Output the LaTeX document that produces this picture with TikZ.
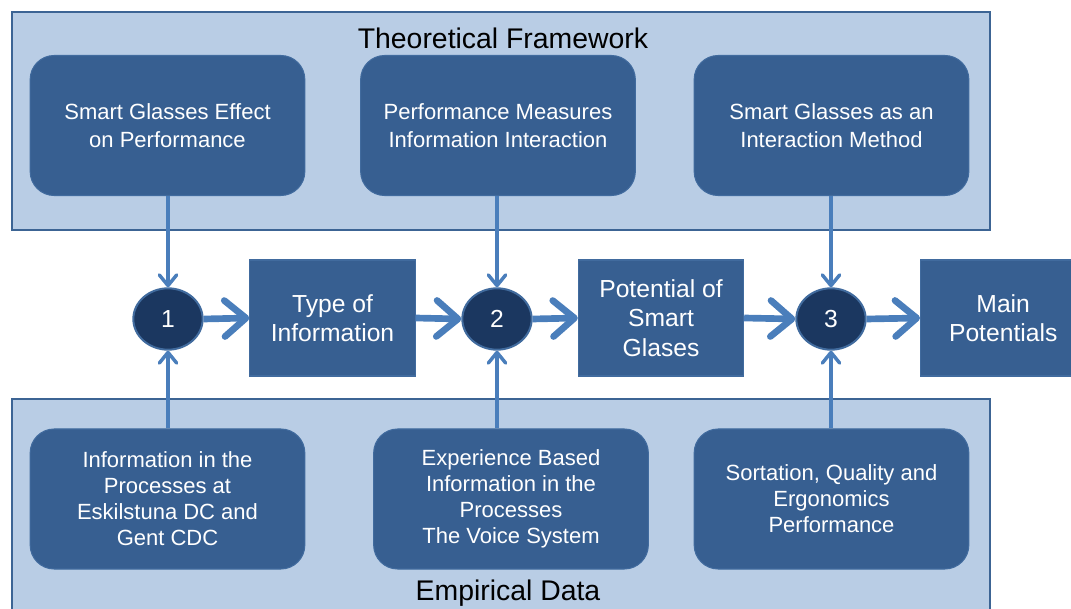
\documentclass[tikz,border=0pt]{standalone}
\usepackage{fontspec}
\setmainfont{Liberation Sans}
\usetikzlibrary{arrows.meta,shapes.geometric}
\definecolor{framefill}{HTML}{B9CDE5}
\definecolor{frameedge}{HTML}{3C6494}
\definecolor{boxfill}{HTML}{375F91}
\definecolor{boxedge}{HTML}{416B9E}
\definecolor{circfill}{HTML}{1B3760}
\definecolor{arrowcol}{HTML}{4A7EBB}
\begin{document}
\begin{tikzpicture}[x=0.75pt,y=-0.75pt,
  frame/.style={draw=frameedge,fill=framefill,line width=2.2pt},
  rbox/.style={draw=boxedge,fill=boxfill,line width=0.8pt,rounded corners=18pt,
    minimum width=206pt,minimum height=105pt,text=white,align=center,
    font=\fontsize{16.5}{21}\selectfont,inner sep=0pt},
  lbox/.style={rbox,font=\fontsize{16.5}{19.5}\selectfont},
  mbox/.style={draw=boxedge,fill=boxfill,line width=0.8pt,
    minimum width=124pt,minimum height=87pt,text=white,align=center,
    font=\fontsize{18.5}{22}\selectfont,inner sep=0pt},
  circ/.style={ellipse,draw=boxedge,fill=circfill,line width=1.5pt,
    minimum width=52pt,minimum height=46pt,text=white,inner sep=0pt,
    font=\fontsize{18.5}{20}\selectfont},
  thin/.style={draw=arrowcol,line width=2.6pt,-{Straight Barb[length=8pt,width=13pt,line width=2.6pt,round]}},
  thick/.style={draw=arrowcol,line width=5pt,-{Straight Barb[length=16pt,width=27pt,line width=5pt,round]}},
  ttl/.style={font=\fontsize{21.3}{24}\selectfont,text=black,inner sep=0pt}
]
\useasboundingbox (0,0) rectangle (1071,609);
\clip (0,0) rectangle (1071,609);
% frames
\draw[frame] (12,12) rectangle (990,230);
\draw[frame] (12,399) rectangle (990,640);
\node[ttl] (t1) at (503,38) {Theoretical Framework};
\node[ttl] (t2) at (508,593) {Empirical Data};
% top boxes
\node[rbox] (a1) at (167.5,125.5) {Smart Glasses Effect\\on Performance};
\node[rbox] (a2) at (498,125.5) {Performance Measures\\Information Interaction};
\node[rbox] (a3) at (831.5,125.5) {Smart Glasses as an\\Interaction Method};
% bottom boxes
\node[lbox] (b1) at (167.5,499) {Information in the\\Processes at\\Eskilstuna DC and\\Gent CDC};
\node[lbox] (b2) at (511,499) {Experience Based\\Information in the\\Processes\\The Voice System};
\node[lbox] (b3) at (831.5,499) {Sortation, Quality and\\Ergonomics\\Performance};
% circles
\node[circ] (c1) at (168,319) {1};
\node[circ] (c2) at (497,319) {2};
\node[circ] (c3) at (831,319) {3};
% middle boxes
\node[mbox] (m1) at (332.5,318) {Type of\\Information};
\node[mbox] (m2) at (661,318) {Potential of\\Smart\\Glases};
\node[mbox,anchor=west] (m3) at (920,318) {Main\\Potentials};
% vertical arrows
\draw[thin] (a1.south -| c1) -- (c1.north);
\draw[thin] (a2.south -| c2) -- (c2.north);
\draw[thin] (a3.south -| c3) -- (c3.north);
\draw[thin] (b1.north -| c1) -- (c1.south);
\draw[thin] (b2.north -| c2) -- (c2.south);
\draw[thin] (b3.north -| c3) -- (c3.south);
% horizontal arrows
\draw[thick] (c1.east) -- (m1.west);
\draw[thick] (m1.east) -- (c2.west);
\draw[thick] (c2.east) -- (m2.west);
\draw[thick] (m2.east) -- (c3.west);
\draw[thick] (c3.east) -- (m3.west);
\end{tikzpicture}
\end{document}
